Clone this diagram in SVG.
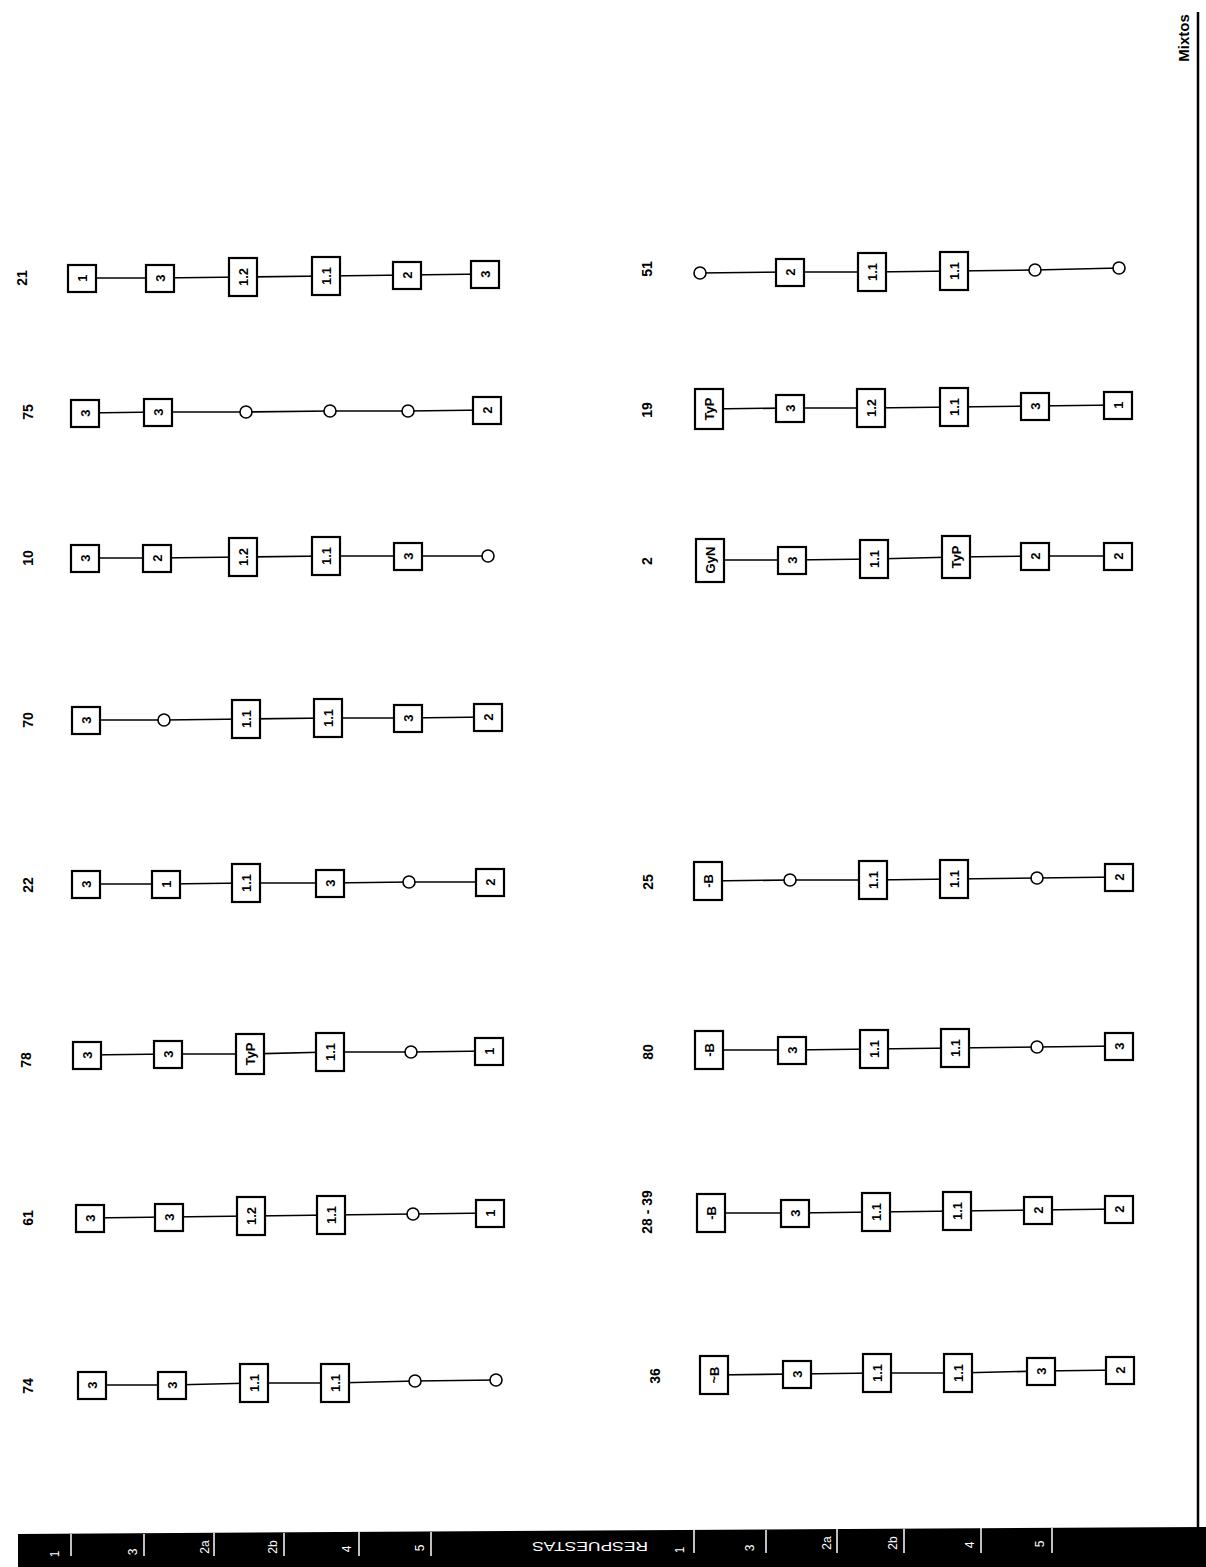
<svg xmlns="http://www.w3.org/2000/svg" width="1206" height="1567" viewBox="0 0 1206 1567">
<style>
.b{fill:#fff;stroke:#000;stroke-width:2.2}
.c{fill:#fff;stroke:#000;stroke-width:1.6}
.t{font-family:"Liberation Sans",Arial,sans-serif;font-weight:bold;font-size:13px;text-anchor:middle;dominant-baseline:central;fill:#000}
.l{font-family:"Liberation Sans",Arial,sans-serif;font-weight:bold;font-size:14px;text-anchor:middle;dominant-baseline:central;fill:#000}
.w{font-family:"Liberation Sans",Arial,sans-serif;font-size:12px;text-anchor:middle;dominant-baseline:central;fill:#fff}
#connectors line{stroke:#000;stroke-width:1.6}
</style>
<rect width="1206" height="1567" fill="#fff"/>
<g id="connectors">
<line x1="82" y1="278" x2="160" y2="278"/><line x1="160" y1="278" x2="243" y2="277"/><line x1="243" y1="277" x2="326" y2="276"/><line x1="326" y1="276" x2="407" y2="275"/><line x1="407" y1="275" x2="485" y2="274"/>
<line x1="85" y1="413" x2="158" y2="412"/><line x1="158" y1="412" x2="246" y2="412"/><line x1="246" y1="412" x2="330" y2="411"/><line x1="330" y1="411" x2="408" y2="411"/><line x1="408" y1="411" x2="487" y2="410"/>
<line x1="85" y1="558" x2="157" y2="558"/><line x1="157" y1="558" x2="243" y2="557"/><line x1="243" y1="557" x2="326" y2="556"/><line x1="326" y1="556" x2="408" y2="556"/><line x1="408" y1="556" x2="488" y2="556"/>
<line x1="86" y1="720" x2="164" y2="720"/><line x1="164" y1="720" x2="246" y2="719"/><line x1="246" y1="719" x2="328" y2="718"/><line x1="328" y1="718" x2="408" y2="718"/><line x1="408" y1="718" x2="488" y2="717"/>
<line x1="86" y1="884" x2="166" y2="884"/><line x1="166" y1="884" x2="246" y2="883"/><line x1="246" y1="883" x2="330" y2="883"/><line x1="330" y1="883" x2="409" y2="882"/><line x1="409" y1="882" x2="490" y2="882"/>
<line x1="87" y1="1055" x2="168" y2="1054"/><line x1="168" y1="1054" x2="250" y2="1054"/><line x1="250" y1="1054" x2="330" y2="1052"/><line x1="330" y1="1052" x2="411" y2="1052"/><line x1="411" y1="1052" x2="489" y2="1051"/>
<line x1="90" y1="1218" x2="169" y2="1217"/><line x1="169" y1="1217" x2="251" y2="1216"/><line x1="251" y1="1216" x2="331" y2="1215"/><line x1="331" y1="1215" x2="413" y2="1214"/><line x1="413" y1="1214" x2="490" y2="1213"/>
<line x1="92" y1="1385" x2="172" y2="1385"/><line x1="172" y1="1385" x2="254" y2="1383"/><line x1="254" y1="1383" x2="335" y2="1383"/><line x1="335" y1="1383" x2="415" y2="1381"/><line x1="415" y1="1381" x2="496" y2="1380"/>
<line x1="700" y1="273" x2="790" y2="272"/><line x1="790" y1="272" x2="872" y2="272"/><line x1="872" y1="272" x2="954" y2="271"/><line x1="954" y1="271" x2="1035" y2="270"/><line x1="1035" y1="270" x2="1119" y2="268"/>
<line x1="709" y1="409" x2="790" y2="408"/><line x1="790" y1="408" x2="871" y2="408"/><line x1="871" y1="408" x2="954" y2="407"/><line x1="954" y1="407" x2="1035" y2="406"/><line x1="1035" y1="406" x2="1118" y2="405"/>
<line x1="710" y1="560" x2="792" y2="560"/><line x1="792" y1="560" x2="874" y2="559"/><line x1="874" y1="559" x2="956" y2="557"/><line x1="956" y1="557" x2="1035" y2="556"/><line x1="1035" y1="556" x2="1118" y2="556"/>
<line x1="708" y1="881" x2="790" y2="880"/><line x1="790" y1="880" x2="873" y2="880"/><line x1="873" y1="880" x2="954" y2="879"/><line x1="954" y1="879" x2="1037" y2="878"/><line x1="1037" y1="878" x2="1119" y2="877"/>
<line x1="709" y1="1050" x2="792" y2="1050"/><line x1="792" y1="1050" x2="874" y2="1049"/><line x1="874" y1="1049" x2="955" y2="1048"/><line x1="955" y1="1048" x2="1037" y2="1047"/><line x1="1037" y1="1047" x2="1119" y2="1046"/>
<line x1="711" y1="1213" x2="795" y2="1213"/><line x1="795" y1="1213" x2="876" y2="1212"/><line x1="876" y1="1212" x2="957" y2="1211"/><line x1="957" y1="1211" x2="1038" y2="1210"/><line x1="1038" y1="1210" x2="1119" y2="1209"/>
<line x1="714" y1="1375" x2="797" y2="1374"/><line x1="797" y1="1374" x2="877" y2="1373"/><line x1="877" y1="1373" x2="958" y2="1373"/><line x1="958" y1="1373" x2="1041" y2="1371"/><line x1="1041" y1="1371" x2="1120" y2="1370"/>
</g>

<g id="chain-21">
<text class="l" transform="rotate(-90 22 278)" x="22" y="278">21</text>
<g id="n21-1"><rect class="b" x="68" y="265" width="28" height="27"/><text class="t" transform="rotate(-90 82 278)" x="82" y="278">1</text></g>
<g id="n21-2"><rect class="b" x="146" y="265" width="28" height="27"/><text class="t" transform="rotate(-90 160 278)" x="160" y="278">3</text></g>
<g id="n21-3"><rect class="b" x="229" y="258" width="28" height="38"/><text class="t" transform="rotate(-90 243 277)" x="243" y="277">1.2</text></g>
<g id="n21-4"><rect class="b" x="312" y="257" width="28" height="38"/><text class="t" transform="rotate(-90 326 276)" x="326" y="276">1.1</text></g>
<g id="n21-5"><rect class="b" x="393" y="262" width="28" height="27"/><text class="t" transform="rotate(-90 407 275)" x="407" y="275">2</text></g>
<g id="n21-6"><rect class="b" x="471" y="261" width="28" height="27"/><text class="t" transform="rotate(-90 485 274)" x="485" y="274">3</text></g>
</g>

<g id="chain-75">
<text class="l" transform="rotate(-90 28 412)" x="28" y="412">75</text>
<g id="n75-1"><rect class="b" x="71" y="400" width="28" height="27"/><text class="t" transform="rotate(-90 85 413)" x="85" y="413">3</text></g>
<g id="n75-2"><rect class="b" x="144" y="399" width="28" height="27"/><text class="t" transform="rotate(-90 158 412)" x="158" y="412">3</text></g>
<g id="n75-3"><circle class="c" cx="246" cy="412" r="6"/></g>
<g id="n75-4"><circle class="c" cx="330" cy="411" r="6"/></g>
<g id="n75-5"><circle class="c" cx="408" cy="411" r="6"/></g>
<g id="n75-6"><rect class="b" x="473" y="397" width="28" height="27"/><text class="t" transform="rotate(-90 487 410)" x="487" y="410">2</text></g>
</g>

<g id="chain-10">
<text class="l" transform="rotate(-90 28 558)" x="28" y="558">10</text>
<g id="n10-1"><rect class="b" x="71" y="545" width="28" height="27"/><text class="t" transform="rotate(-90 85 558)" x="85" y="558">3</text></g>
<g id="n10-2"><rect class="b" x="143" y="545" width="28" height="27"/><text class="t" transform="rotate(-90 157 558)" x="157" y="558">2</text></g>
<g id="n10-3"><rect class="b" x="229" y="538" width="28" height="38"/><text class="t" transform="rotate(-90 243 557)" x="243" y="557">1.2</text></g>
<g id="n10-4"><rect class="b" x="312" y="537" width="28" height="38"/><text class="t" transform="rotate(-90 326 556)" x="326" y="556">1.1</text></g>
<g id="n10-5"><rect class="b" x="394" y="543" width="28" height="27"/><text class="t" transform="rotate(-90 408 556)" x="408" y="556">3</text></g>
<g id="n10-6"><circle class="c" cx="488" cy="556" r="6"/></g>
</g>

<g id="chain-70">
<text class="l" transform="rotate(-90 28 720)" x="28" y="720">70</text>
<g id="n70-1"><rect class="b" x="72" y="707" width="28" height="27"/><text class="t" transform="rotate(-90 86 720)" x="86" y="720">3</text></g>
<g id="n70-2"><circle class="c" cx="164" cy="720" r="6"/></g>
<g id="n70-3"><rect class="b" x="232" y="700" width="28" height="38"/><text class="t" transform="rotate(-90 246 719)" x="246" y="719">1.1</text></g>
<g id="n70-4"><rect class="b" x="314" y="699" width="28" height="38"/><text class="t" transform="rotate(-90 328 718)" x="328" y="718">1.1</text></g>
<g id="n70-5"><rect class="b" x="394" y="705" width="28" height="27"/><text class="t" transform="rotate(-90 408 718)" x="408" y="718">3</text></g>
<g id="n70-6"><rect class="b" x="474" y="704" width="28" height="27"/><text class="t" transform="rotate(-90 488 717)" x="488" y="717">2</text></g>
</g>

<g id="chain-22">
<text class="l" transform="rotate(-90 28 885)" x="28" y="885">22</text>
<g id="n22-1"><rect class="b" x="72" y="871" width="28" height="27"/><text class="t" transform="rotate(-90 86 884)" x="86" y="884">3</text></g>
<g id="n22-2"><rect class="b" x="152" y="871" width="28" height="27"/><text class="t" transform="rotate(-90 166 884)" x="166" y="884">1</text></g>
<g id="n22-3"><rect class="b" x="232" y="864" width="28" height="38"/><text class="t" transform="rotate(-90 246 883)" x="246" y="883">1.1</text></g>
<g id="n22-4"><rect class="b" x="316" y="870" width="28" height="27"/><text class="t" transform="rotate(-90 330 883)" x="330" y="883">3</text></g>
<g id="n22-5"><circle class="c" cx="409" cy="882" r="6"/></g>
<g id="n22-6"><rect class="b" x="476" y="869" width="28" height="27"/><text class="t" transform="rotate(-90 490 882)" x="490" y="882">2</text></g>
</g>

<g id="chain-78">
<text class="l" transform="rotate(-90 26 1060)" x="26" y="1060">78</text>
<g id="n78-1"><rect class="b" x="73" y="1042" width="28" height="27"/><text class="t" transform="rotate(-90 87 1055)" x="87" y="1055">3</text></g>
<g id="n78-2"><rect class="b" x="154" y="1041" width="28" height="27"/><text class="t" transform="rotate(-90 168 1054)" x="168" y="1054">3</text></g>
<g id="n78-3"><rect class="b" x="236" y="1034" width="28" height="40"/><text class="t" transform="rotate(-90 250 1054)" x="250" y="1054">TyP</text></g>
<g id="n78-4"><rect class="b" x="316" y="1033" width="28" height="38"/><text class="t" transform="rotate(-90 330 1052)" x="330" y="1052">1.1</text></g>
<g id="n78-5"><circle class="c" cx="411" cy="1052" r="6"/></g>
<g id="n78-6"><rect class="b" x="475" y="1038" width="28" height="27"/><text class="t" transform="rotate(-90 489 1051)" x="489" y="1051">1</text></g>
</g>

<g id="chain-61">
<text class="l" transform="rotate(-90 28 1218)" x="28" y="1218">61</text>
<g id="n61-1"><rect class="b" x="76" y="1205" width="28" height="27"/><text class="t" transform="rotate(-90 90 1218)" x="90" y="1218">3</text></g>
<g id="n61-2"><rect class="b" x="155" y="1204" width="28" height="27"/><text class="t" transform="rotate(-90 169 1217)" x="169" y="1217">3</text></g>
<g id="n61-3"><rect class="b" x="237" y="1197" width="28" height="38"/><text class="t" transform="rotate(-90 251 1216)" x="251" y="1216">1.2</text></g>
<g id="n61-4"><rect class="b" x="317" y="1196" width="28" height="38"/><text class="t" transform="rotate(-90 331 1215)" x="331" y="1215">1.1</text></g>
<g id="n61-5"><circle class="c" cx="413" cy="1214" r="6"/></g>
<g id="n61-6"><rect class="b" x="476" y="1200" width="28" height="27"/><text class="t" transform="rotate(-90 490 1213)" x="490" y="1213">1</text></g>
</g>

<g id="chain-74">
<text class="l" transform="rotate(-90 28 1386)" x="28" y="1386">74</text>
<g id="n74-1"><rect class="b" x="78" y="1372" width="28" height="27"/><text class="t" transform="rotate(-90 92 1385)" x="92" y="1385">3</text></g>
<g id="n74-2"><rect class="b" x="158" y="1372" width="28" height="27"/><text class="t" transform="rotate(-90 172 1385)" x="172" y="1385">3</text></g>
<g id="n74-3"><rect class="b" x="240" y="1364" width="28" height="38"/><text class="t" transform="rotate(-90 254 1383)" x="254" y="1383">1.1</text></g>
<g id="n74-4"><rect class="b" x="321" y="1364" width="28" height="38"/><text class="t" transform="rotate(-90 335 1383)" x="335" y="1383">1.1</text></g>
<g id="n74-5"><circle class="c" cx="415" cy="1381" r="6"/></g>
<g id="n74-6"><circle class="c" cx="496" cy="1380" r="6"/></g>
</g>

<g id="chain-51">
<text class="l" transform="rotate(-90 647 269)" x="647" y="269">51</text>
<g id="n51-1"><circle class="c" cx="700" cy="273" r="6"/></g>
<g id="n51-2"><rect class="b" x="776" y="259" width="28" height="27"/><text class="t" transform="rotate(-90 790 272)" x="790" y="272">2</text></g>
<g id="n51-3"><rect class="b" x="858" y="253" width="28" height="38"/><text class="t" transform="rotate(-90 872 272)" x="872" y="272">1.1</text></g>
<g id="n51-4"><rect class="b" x="940" y="252" width="28" height="38"/><text class="t" transform="rotate(-90 954 271)" x="954" y="271">1.1</text></g>
<g id="n51-5"><circle class="c" cx="1035" cy="270" r="6"/></g>
<g id="n51-6"><circle class="c" cx="1119" cy="268" r="6"/></g>
</g>

<g id="chain-19">
<text class="l" transform="rotate(-90 647 410)" x="647" y="410">19</text>
<g id="n19-1"><rect class="b" x="695" y="389" width="28" height="40"/><text class="t" transform="rotate(-90 709 409)" x="709" y="409">TyP</text></g>
<g id="n19-2"><rect class="b" x="776" y="395" width="28" height="27"/><text class="t" transform="rotate(-90 790 408)" x="790" y="408">3</text></g>
<g id="n19-3"><rect class="b" x="857" y="389" width="28" height="38"/><text class="t" transform="rotate(-90 871 408)" x="871" y="408">1.2</text></g>
<g id="n19-4"><rect class="b" x="940" y="388" width="28" height="38"/><text class="t" transform="rotate(-90 954 407)" x="954" y="407">1.1</text></g>
<g id="n19-5"><rect class="b" x="1021" y="393" width="28" height="27"/><text class="t" transform="rotate(-90 1035 406)" x="1035" y="406">3</text></g>
<g id="n19-6"><rect class="b" x="1104" y="392" width="28" height="27"/><text class="t" transform="rotate(-90 1118 405)" x="1118" y="405">1</text></g>
</g>

<g id="chain-2">
<text class="l" transform="rotate(-90 647 561)" x="647" y="561">2</text>
<g id="n2-1"><rect class="b" x="696" y="539" width="28" height="43"/><text class="t" transform="rotate(-90 710 560)" x="710" y="560">GyN</text></g>
<g id="n2-2"><rect class="b" x="778" y="547" width="28" height="27"/><text class="t" transform="rotate(-90 792 560)" x="792" y="560">3</text></g>
<g id="n2-3"><rect class="b" x="860" y="540" width="28" height="38"/><text class="t" transform="rotate(-90 874 559)" x="874" y="559">1.1</text></g>
<g id="n2-4"><rect class="b" x="942" y="536" width="28" height="42"/><text class="t" transform="rotate(-90 956 557)" x="956" y="557">TyP</text></g>
<g id="n2-5"><rect class="b" x="1021" y="543" width="28" height="27"/><text class="t" transform="rotate(-90 1035 556)" x="1035" y="556">2</text></g>
<g id="n2-6"><rect class="b" x="1104" y="543" width="28" height="27"/><text class="t" transform="rotate(-90 1118 556)" x="1118" y="556">2</text></g>
</g>

<g id="chain-25">
<text class="l" transform="rotate(-90 648 882)" x="648" y="882">25</text>
<g id="n25-1"><rect class="b" x="694" y="862" width="28" height="38"/><text class="t" transform="rotate(-90 708 881)" x="708" y="881">-B</text></g>
<g id="n25-2"><circle class="c" cx="790" cy="880" r="6"/></g>
<g id="n25-3"><rect class="b" x="859" y="861" width="28" height="38"/><text class="t" transform="rotate(-90 873 880)" x="873" y="880">1.1</text></g>
<g id="n25-4"><rect class="b" x="940" y="860" width="28" height="38"/><text class="t" transform="rotate(-90 954 879)" x="954" y="879">1.1</text></g>
<g id="n25-5"><circle class="c" cx="1037" cy="878" r="6"/></g>
<g id="n25-6"><rect class="b" x="1105" y="864" width="28" height="27"/><text class="t" transform="rotate(-90 1119 877)" x="1119" y="877">2</text></g>
</g>

<g id="chain-80">
<text class="l" transform="rotate(-90 648 1052)" x="648" y="1052">80</text>
<g id="n80-1"><rect class="b" x="695" y="1031" width="28" height="38"/><text class="t" transform="rotate(-90 709 1050)" x="709" y="1050">-B</text></g>
<g id="n80-2"><rect class="b" x="778" y="1037" width="28" height="27"/><text class="t" transform="rotate(-90 792 1050)" x="792" y="1050">3</text></g>
<g id="n80-3"><rect class="b" x="860" y="1030" width="28" height="38"/><text class="t" transform="rotate(-90 874 1049)" x="874" y="1049">1.1</text></g>
<g id="n80-4"><rect class="b" x="941" y="1029" width="28" height="38"/><text class="t" transform="rotate(-90 955 1048)" x="955" y="1048">1.1</text></g>
<g id="n80-5"><circle class="c" cx="1037" cy="1047" r="6"/></g>
<g id="n80-6"><rect class="b" x="1105" y="1033" width="28" height="27"/><text class="t" transform="rotate(-90 1119 1046)" x="1119" y="1046">3</text></g>
</g>

<g id="chain-28-39">
<text class="l" transform="rotate(-90 647 1212)" x="647" y="1212">28 - 39</text>
<g id="n2839-1"><rect class="b" x="697" y="1194" width="28" height="38"/><text class="t" transform="rotate(-90 711 1213)" x="711" y="1213">-B</text></g>
<g id="n2839-2"><rect class="b" x="781" y="1200" width="28" height="27"/><text class="t" transform="rotate(-90 795 1213)" x="795" y="1213">3</text></g>
<g id="n2839-3"><rect class="b" x="862" y="1193" width="28" height="38"/><text class="t" transform="rotate(-90 876 1212)" x="876" y="1212">1.1</text></g>
<g id="n2839-4"><rect class="b" x="943" y="1192" width="28" height="38"/><text class="t" transform="rotate(-90 957 1211)" x="957" y="1211">1.1</text></g>
<g id="n2839-5"><rect class="b" x="1024" y="1197" width="28" height="27"/><text class="t" transform="rotate(-90 1038 1210)" x="1038" y="1210">2</text></g>
<g id="n2839-6"><rect class="b" x="1105" y="1196" width="28" height="27"/><text class="t" transform="rotate(-90 1119 1209)" x="1119" y="1209">2</text></g>
</g>

<g id="chain-36">
<text class="l" transform="rotate(-90 655 1376)" x="655" y="1376">36</text>
<g id="n36-1"><rect class="b" x="700" y="1356" width="28" height="38"/><text class="t" transform="rotate(-90 714 1375)" x="714" y="1375">~B</text></g>
<g id="n36-2"><rect class="b" x="783" y="1361" width="28" height="27"/><text class="t" transform="rotate(-90 797 1374)" x="797" y="1374">3</text></g>
<g id="n36-3"><rect class="b" x="863" y="1354" width="28" height="38"/><text class="t" transform="rotate(-90 877 1373)" x="877" y="1373">1.1</text></g>
<g id="n36-4"><rect class="b" x="944" y="1354" width="28" height="38"/><text class="t" transform="rotate(-90 958 1373)" x="958" y="1373">1.1</text></g>
<g id="n36-5"><rect class="b" x="1027" y="1358" width="28" height="27"/><text class="t" transform="rotate(-90 1041 1371)" x="1041" y="1371">3</text></g>
<g id="n36-6"><rect class="b" x="1106" y="1357" width="28" height="27"/><text class="t" transform="rotate(-90 1120 1370)" x="1120" y="1370">2</text></g>
</g>

<g id="title">
<text class="l" style="font-size:15px" transform="rotate(-90 1183 38)" x="1183" y="38">Mixtos</text>
<line x1="1198" y1="12" x2="1198" y2="1530" stroke="#000" stroke-width="2.5"/>
</g>

<g id="bar">
<polygon points="18,1534 1206,1527 1206,1567 18,1567" fill="#000"/>
<g stroke="#fff" stroke-width="1.5">
<line x1="71" y1="1534" x2="71" y2="1556"/><line x1="144" y1="1534" x2="144" y2="1556"/><line x1="214" y1="1533" x2="214" y2="1556"/><line x1="284" y1="1533" x2="284" y2="1556"/><line x1="359" y1="1532" x2="359" y2="1556"/><line x1="431" y1="1532" x2="431" y2="1556"/>
<line x1="694" y1="1530" x2="694" y2="1553"/><line x1="766" y1="1530" x2="766" y2="1553"/><line x1="837" y1="1529" x2="837" y2="1553"/><line x1="904" y1="1529" x2="904" y2="1553"/><line x1="981" y1="1528" x2="981" y2="1553"/><line x1="1052" y1="1528" x2="1052" y2="1553"/>
</g>
<text class="w" transform="rotate(-90 55 1554)" x="55" y="1554">1</text>
<text class="w" transform="rotate(-90 133 1552)" x="133" y="1552">3</text>
<text class="w" transform="rotate(-90 205 1547)" x="205" y="1547">2a</text>
<text class="w" transform="rotate(-90 273 1547)" x="273" y="1547">2b</text>
<text class="w" transform="rotate(-90 347 1549)" x="347" y="1549">4</text>
<text class="w" transform="rotate(-90 420 1548)" x="420" y="1548">5</text>
<text class="w" transform="rotate(180 590 1546)" x="590" y="1546" textLength="116" lengthAdjust="spacingAndGlyphs">RESPUESTAS</text>
<text class="w" transform="rotate(-90 680 1550)" x="680" y="1550">1</text>
<text class="w" transform="rotate(-90 750 1548)" x="750" y="1548">3</text>
<text class="w" transform="rotate(-90 827 1543)" x="827" y="1543">2a</text>
<text class="w" transform="rotate(-90 893 1543)" x="893" y="1543">2b</text>
<text class="w" transform="rotate(-90 970 1545)" x="970" y="1545">4</text>
<text class="w" transform="rotate(-90 1040 1544)" x="1040" y="1544">5</text>
</g>
</svg>
